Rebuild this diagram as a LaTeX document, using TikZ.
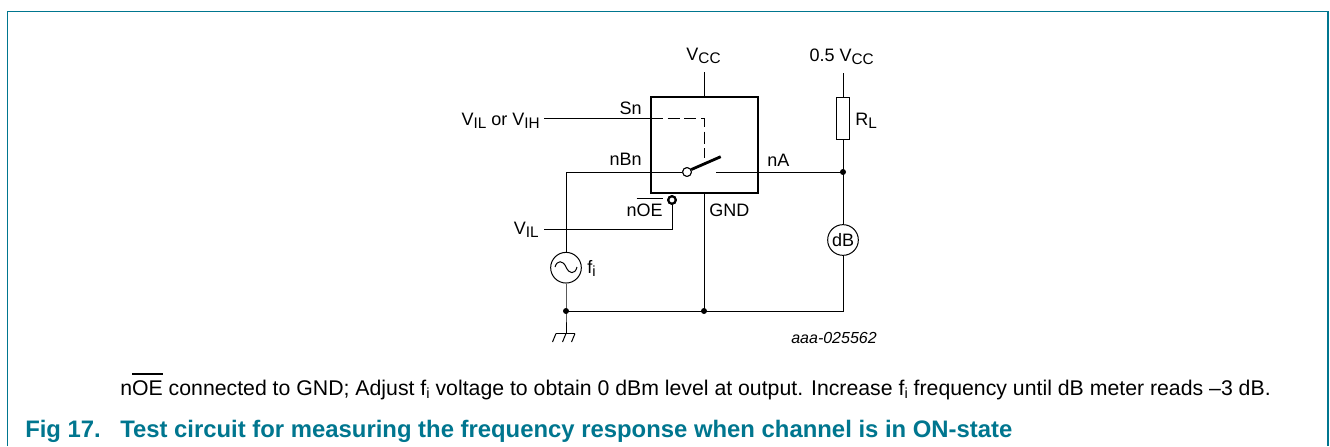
\documentclass[tikz,border=0pt]{standalone}
\usepackage{fontspec}
\setmainfont{Liberation Sans}
\definecolor{nxp}{HTML}{00768F}
\newsavebox{\ovlbox}
\newcommand{\ovl}[1]{\sbox{\ovlbox}{#1}\rlap{\rule[0.95em]{\wd\ovlbox}{0.065em}}\usebox{\ovlbox}}
\newcommand{\subs}[2][11.5]{\raisebox{-2.7pt}{\fontsize{#1pt}{#1pt}\selectfont #2}}
\tikzset{
  wire/.style={line width=0.75pt,black},
  thick box/.style={line width=2pt,black},
  lbl/.style={inner sep=0pt,font=\fontsize{13.5pt}{16pt}\selectfont},
  captxt/.style={inner sep=0pt,anchor=base west,font=\fontsize{15.95pt}{18pt}\selectfont},
  figtxt/.style={inner sep=0pt,anchor=base west,text=nxp,font=\fontsize{17.9pt}{20pt}\selectfont\bfseries},
  dotn/.style={circle,fill=black,inner sep=0pt,minimum size=4.5pt},
  circ/.style={circle,draw,line width=0.75pt,fill=white,inner sep=0pt,minimum size=#1},
  bub/.style={circle,draw,line width=1.6pt,fill=white,inner sep=0pt,minimum size=5.6pt},
}
\begin{document}
\begin{tikzpicture}[x=0.75pt,y=-0.75pt]
\useasboundingbox (0,0) rectangle (1330,446);
\draw[nxp,line width=0.9pt] (7.5,446) -- (7.5,11.5) -- (1328,11.5) -- (1328,446);
% anchors
\coordinate (vcct) at (704,72);
\coordinate (vccb) at (704,97);
\coordinate (halft) at (843,73);
\coordinate (snl) at (544,118);
\coordinate (snb) at (651,118);
\coordinate (dc) at (704,118);
\coordinate (de) at (704,158);
\coordinate (corner) at (566,172);
\coordinate (vill) at (544,229);
\coordinate (vilc) at (672,229);
\coordinate (gt) at (704,193);
\coordinate (nac) at (716,172);
\coordinate (arm) at (720.7,156.7);
\coordinate (gndb) at (566,333.5);
\node[dotn] (jA) at (843,172) {};
\node[dotn] (jG) at (704,311) {};
\node[dotn] (jL) at (566,311) {};
\node[draw,wire,minimum width=9.5pt,minimum height=31.5pt,inner sep=0pt,fill=white] (rl) at (843,118) {};
\node[circ=23pt] (fi) at (566,267.7) {};
\node[circ=23pt,font=\fontsize{13.5pt}{16pt}\selectfont] (db) at (843,240) {dB};
\node[circ=6.6pt] (sw) at (687,172) {};
\node[bub] (oe) at (672,200) {};
% wires
\draw[wire] (snl) -- (snb);
\draw[wire,dash pattern=on 9pt off 3.5pt] (snb) -- (dc) -- (de);
\draw[wire] (vcct) -- (vccb);
\draw[wire] (halft) -- (rl.north);
\draw[wire] (rl.south) -- (jA.center);
\draw[wire] (nac) -- (jA.center);
\draw[wire] (jA.center) -- (db.north);
\draw[wire] (db.south) -- (jL.center -| db.south) -- (jL.center);
\draw[wire] (sw.west) -- (corner) -- (fi.north);
\draw[wire] (fi.south) -- (jL.center) -- (gndb);
\draw[wire] (gt) -- (jG.center);
\draw[wire] (vill) -- (vilc) -- (oe.south);
\draw[line width=2.1pt,black] (sw.30) -- (arm);
\draw[thick box] (651,97) rectangle (758,193);
\node[circ=6.6pt] at (sw) {};
\node[bub] at (oe) {};
% ground
\draw[wire] (556,333.5) -- (575,333.5);
\draw[wire] (556,333.5) -- (552.5,342) (566,333.5) -- (562.5,342) (575,333.5) -- (571.5,342);
\draw[wire] (555,267) .. controls (557,260) and (563,260) .. (566,267) .. controls (569,274) and (575,275) .. (577,267);
% labels
\node[lbl,anchor=base] (t1) at (703.5,60) {V\subs{CC}};
\node[lbl,anchor=base east] (t2) at (874,61) {0.5 V\subs{CC}};
\node[lbl,anchor=base east] (t3) at (540,125) {V\subs{IL} or V\subs{IH}};
\node[lbl,anchor=base east] (t4) at (642,114) {Sn};
\node[lbl,anchor=base east] (t5) at (642,165) {nBn};
\node[lbl,anchor=base west] (t6) at (767,166) {nA};
\node[lbl,anchor=base west] (t7) at (855,125) {R\subs{L}};
\node[lbl,anchor=base east] (t8) at (663,216) {n\ovl{OE}};
\node[lbl,anchor=base west] (t9) at (709,216) {GND};
\node[lbl,anchor=base east] (t10) at (539,234) {V\subs{IL}};
\node[lbl,anchor=base west] (t11) at (587,273) {f\subs[11]{i}};
\node[inner sep=0pt,anchor=base east,font=\fontsize{12pt}{14pt}\selectfont\itshape] (t12) at (877,343) {aaa-025562};
\node[captxt] (t13) at (120,395) {n\ovl{OE} connected to GND; Adjust f\subs[11]{i} voltage to obtain 0 dBm level at output. Increase f\subs[11]{i} frequency until dB meter reads –3 dB.};
\node[figtxt] (t14) at (25,437) {Fig 17.};
\node[figtxt] (t15) at (120,437) {Test circuit for measuring the frequency response when channel is in ON-state};
\end{tikzpicture}
\end{document}
